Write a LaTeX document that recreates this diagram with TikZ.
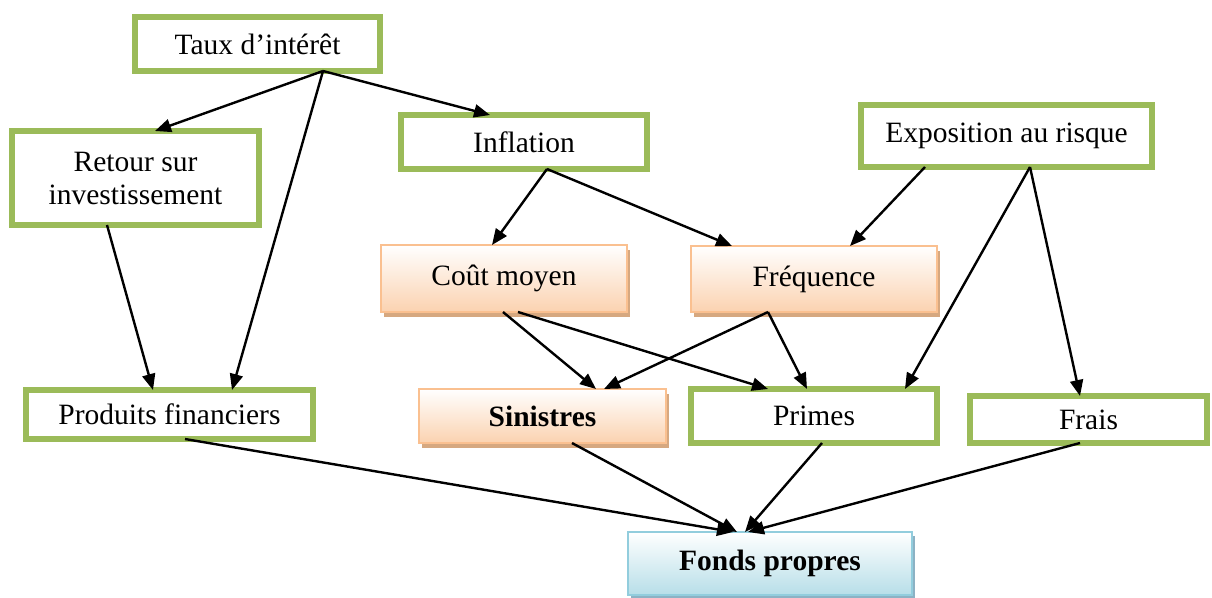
\documentclass[tikz,border=0pt]{standalone}
\usepackage{fontspec}
\setmainfont{Liberation Serif}
\usetikzlibrary{arrows.meta,shadows}

\definecolor{boxgreen}{RGB}{155,187,89}
\definecolor{peachline}{RGB}{250,192,144}
\definecolor{peachfill}{RGB}{251,210,176}
\definecolor{peachshadow}{RGB}{214,168,128}
\definecolor{blueline}{RGB}{146,205,221}
\definecolor{bluefill}{RGB}{183,222,232}
\definecolor{blueshadow}{RGB}{140,178,196}

\tikzset{
  greenbox/.style={draw=boxgreen, line width=6pt, fill=white,
    inner sep=0pt, outer sep=0pt, align=center},
  peachbox/.style={draw=peachline, line width=2pt, top color=white,
    bottom color=peachfill, inner sep=0pt, outer sep=0pt,
    drop shadow={shadow xshift=3pt, shadow yshift=-5pt, opacity=1,
      fill=peachshadow, draw=none}},
  bluebox/.style={draw=blueline, line width=2pt, top color=white,
    bottom color=bluefill, inner sep=0pt, outer sep=0pt,
    drop shadow={shadow xshift=3pt, shadow yshift=-4pt, opacity=1,
      fill=blueshadow, draw=none}},
  link/.style={-{Triangle[length=16pt,width=13pt]}, line width=2.4pt, black}
}

\begin{document}
\begin{tikzpicture}[x=1pt, y=-1pt, font=\fontsize{29.5}{33}\selectfont]
\useasboundingbox (0,0) rectangle (1212,597);

% top level
\node[greenbox, minimum width=245pt, minimum height=54pt] (taux) at (257.5,44) {Taux d’intérêt};
\node[greenbox, minimum width=247pt, minimum height=94pt] (retour) at (135.5,178) {Retour sur\\investissement};
\node[greenbox, minimum width=246pt, minimum height=54pt] (infl) at (524,142) {Inflation};
\node[greenbox, minimum width=291pt, minimum height=62pt] (expo) at (1006.5,136) {Exposition au risque};

% middle level
\node[peachbox, minimum width=246pt, minimum height=67pt] (cout) at (504,278.5) {Coût moyen};
\node[peachbox, minimum width=246pt, minimum height=66pt] (freq) at (814,279) {Fréquence};

% lower level
\node[greenbox, minimum width=287pt, minimum height=49pt] (prod) at (169.5,414.5) {Produits financiers};
\node[peachbox, minimum width=247pt, minimum height=54pt] (sin) at (542.5,416) {\bfseries Sinistres};
\node[greenbox, minimum width=246pt, minimum height=54pt] (primes) at (814,416) {Primes};
\node[greenbox, minimum width=237pt, minimum height=47pt] (frais) at (1088.5,419.5) {Frais};

% result
\node[bluebox, minimum width=284pt, minimum height=63pt] (fonds) at (770,563.5) {\bfseries Fonds propres};

% links
\draw[link] ([xshift=65.5pt]taux.south) -- ([xshift=19.5pt]retour.north);
\draw[link] ([xshift=65.5pt]taux.south) -- ([xshift=-34pt]infl.north);
\draw[link] ([xshift=65.5pt]taux.south) -- ([xshift=62.5pt]prod.north);
\draw[link] ([xshift=-28.5pt]retour.south) -- ([xshift=-16.5pt]prod.north);

\draw[link] ([xshift=23pt]infl.south) -- ([xshift=-12pt]cout.north);
\draw[link] ([xshift=23pt]infl.south) -- ([xshift=-82pt]freq.north);
\draw[link] ([xshift=-81.5pt]expo.south) -- ([xshift=36pt]freq.north);
\draw[link] ([xshift=23.5pt]expo.south) -- ([xshift=91pt]primes.north);
\draw[link] ([xshift=23.5pt]expo.south) -- ([xshift=-8.5pt]frais.north);

\draw[link] ([xshift=-1pt]cout.south) -- ([xshift=53.5pt]sin.north);
\draw[link] ([xshift=14pt]cout.south) -- ([xshift=-46pt]primes.north);
\draw[link] ([xshift=-46pt]freq.south) -- ([xshift=61.5pt]sin.north);
\draw[link] ([xshift=-46pt]freq.south) -- ([xshift=-7pt]primes.north);

\draw[link] ([xshift=15.5pt]prod.south) -- ([xshift=-37pt]fonds.north);
\draw[link] ([xshift=29.5pt]sin.south) -- ([xshift=-33pt]fonds.north);
\draw[link] ([xshift=8pt]primes.south) -- ([xshift=-25pt]fonds.north);
\draw[link] ([xshift=-8.5pt]frais.south) -- ([xshift=-22pt]fonds.north);
\end{tikzpicture}
\end{document}
